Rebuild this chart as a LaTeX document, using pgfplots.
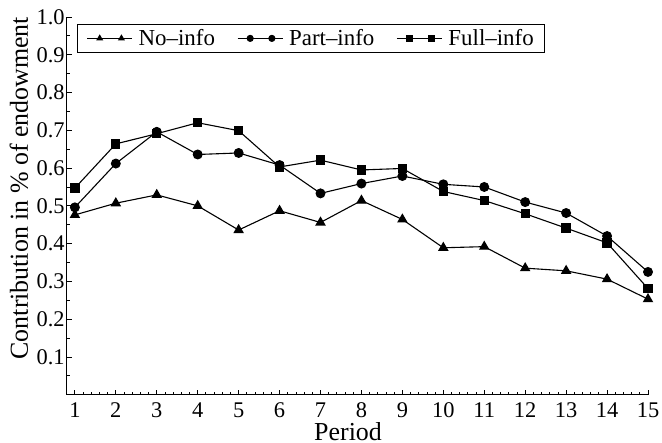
\documentclass[border=0pt]{standalone}
\usepackage{fontspec}
\setmainfont{Liberation Serif}
\usepackage{pgfplots}
\usepackage{pgfplotstable}
\pgfplotsset{compat=1.18}

% contribution per period
\pgfplotstableread{
period noinfo partinfo fullinfo
1  0.476 0.496 0.547
2  0.507 0.612 0.664
3  0.529 0.696 0.691
4  0.500 0.636 0.720
5  0.436 0.640 0.699
6  0.487 0.608 0.603
7  0.456 0.533 0.621
8  0.514 0.559 0.595
9  0.464 0.579 0.599
10 0.389 0.557 0.538
11 0.392 0.550 0.514
12 0.335 0.510 0.479
13 0.328 0.481 0.441
14 0.306 0.420 0.402
15 0.253 0.325 0.281
}\contrib

\begin{document}
\begin{tikzpicture}
\begin{axis}[
    name=ax,
    scale only axis,
    width=581.3bp, height=377.7bp,
    xmin=0.8, xmax=15, ymin=0, ymax=1,
    clip=false,
    axis x line*=bottom, axis y line*=left,
    axis line style={-, line width=1bp},
    tick align=inside,
    major tick length=5bp, minor tick length=3bp,
    every tick/.style={black, line width=0.8bp},
    xtick={1,...,15},
    minor x tick num=4,
    ytick={0,0.1,0.2,0.3,0.4,0.5,0.6,0.7,0.8,0.9,1},
    yticklabels={,0.1,0.2,0.3,0.4,0.5,0.6,0.7,0.8,0.9,1.0},
    minor y tick num=1,
    /pgf/number format/assume math mode=true,
    tick label style={font=\fontsize{22.5}{26}\selectfont},
    xticklabel style={inner sep=0pt, yshift=-8bp},
    yticklabel style={xshift=1.5bp},
    xlabel={Period},
    ylabel={Contribution in \% of endowment},
    label style={font=\fontsize{26}{30}\selectfont},
    xlabel style={at={(axis description cs:0.484,-0.121)}, anchor=base, inner sep=0pt},
    ylabel style={at={(axis description cs:-0.0602,0.547)}, anchor=south},
    legend columns=-1,
    legend style={at={(axis description cs:0.018,0.981)}, anchor=north west,
        draw=black, line width=0.8bp, inner xsep=9bp, inner ysep=3bp,
        font=\fontsize{23}{27}\selectfont,
        /tikz/every odd column/.append style={column sep=4bp},
        /tikz/every even column/.append style={column sep=20bp}},
    legend image code/.code={
        \draw[#1, mark=none] (0bp,0bp) -- (45bp,0bp);
        \draw[#1, only marks, mark size=3bp] plot coordinates {(12.6bp,0bp) (34.3bp,0bp)};
    },
    every axis plot/.append style={black, line width=1.1bp, mark options={solid, fill=black}},
]
\addplot[mark=triangle*, mark size=5bp] table[x=period, y=noinfo] {\contrib};
\addlegendentry{No--info}
\addplot[mark=*, mark size=4.4bp] table[x=period, y=partinfo] {\contrib};
\addlegendentry{Part--info}
\addplot[mark=square*, mark size=4.1bp] table[x=period, y=fullinfo] {\contrib};
\addlegendentry{Full--info}
\end{axis}
\pgfresetboundingbox
\path[use as bounding box] ([xshift=-66.7bp, yshift=-48.3bp]ax.south west) rectangle ([xshift=14bp, yshift=17bp]ax.north east);
\end{tikzpicture}
\end{document}
